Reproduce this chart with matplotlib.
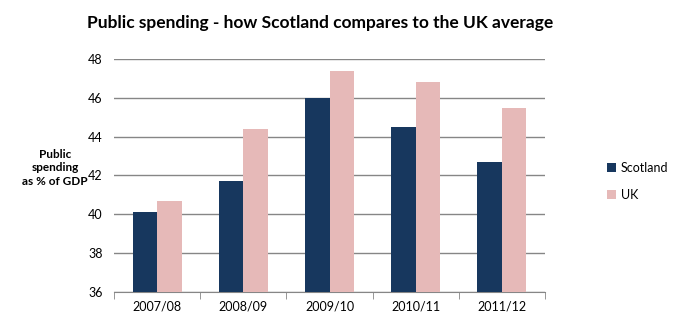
import matplotlib
matplotlib.use("Agg")
import matplotlib.pyplot as plt
import numpy as np

categories = ["2007/08", "2008/09", "2009/10", "2010/11", "2011/12"]
scotland = [40.1, 41.7, 46.0, 44.5, 42.7]
uk = [40.7, 44.4, 47.4, 46.8, 45.5]
yticks = [36, 38, 40, 42, 44, 46, 48]

plt.rcParams['font.family'] = ['Lato', 'DejaVu Sans']

fig = plt.figure(figsize=(6.73, 3.24), dpi=100)
ax = fig.add_axes([0.1694, 0.0988, 0.6404, 0.7192])

x = np.arange(len(categories))
w = 0.285
ax.bar(x - w / 2, scotland, w, color="#17375E", label="Scotland", zorder=3)
ax.bar(x + w / 2, uk, w, color="#E6B9B8", label="UK", zorder=3)

ax.set_ylim(36, 48)
ax.set_xlim(-0.5, len(categories) - 0.5)
ax.set_yticks(yticks)
ax.set_yticklabels([str(t) for t in yticks], fontsize=9)
ax.yaxis.grid(True, color="#868686", linewidth=1, zorder=0)
ax.tick_params(axis='y', length=0, pad=8)
ax.set_xticks(x)
ax.set_xticklabels(categories, fontsize=9)
ax.tick_params(axis='x', length=0, pad=6)
ax.set_xticks(np.arange(-0.5, len(categories)), minor=True)
ax.tick_params(axis='x', which='minor', length=5, color="#868686", direction='out')
for s in ["top", "right", "left"]:
    ax.spines[s].set_visible(False)
ax.spines["bottom"].set_color("#868686")

fig.text(0.082, 0.482, "Public\nspending\nas % of GDP", ha="center", va="center",
         fontsize=8.5, fontweight="bold", linespacing=1.3)

fig.suptitle("Public spending - how Scotland compares to the UK average",
             x=0.476, y=0.955, fontsize=12.5, fontweight="bold")

leg = fig.legend(loc="center left", bbox_to_anchor=(0.885, 0.44), frameon=False,
                 fontsize=9, handlelength=0.7, handleheight=0.7, handletextpad=0.4,
                 labelspacing=1.2)

fig.savefig("out.png", dpi=100)
